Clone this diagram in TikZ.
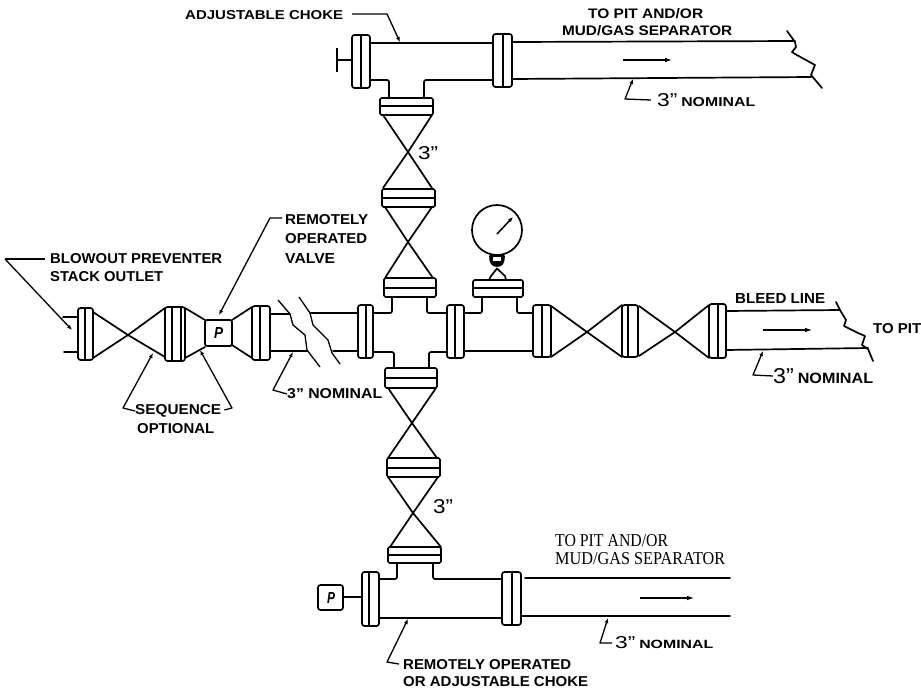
\documentclass[tikz,border=0pt]{standalone}
\usepackage{fontspec}
\usepackage{graphicx}
\setmainfont{Liberation Sans}
\newfontfamily\serifpart{Liberation Serif}
\usetikzlibrary{arrows.meta}
\newcommand{\fitbox}[3]{\resizebox{#1pt}{#2pt}{#3}}
\newcommand{\inchmark}{\symbol{34}}
% vertical flange: x1 x2 y1 y2 inner-x
\newcommand{\VFlange}[5]{\draw[pipe,rounded corners=2.5pt] (#1,#3) rectangle (#2,#4); \draw[thin line] (#5,#3) -- (#5,#4);}
% horizontal flange: x1 x2 y1 y2 inner-y
\newcommand{\HFlange}[5]{\draw[pipe,rounded corners=1.5pt] (#1,#3) rectangle (#2,#4); \draw[pipe] (#1,#5) -- (#2,#5);}
\tikzset{
  pipe/.style={line width=1.7pt,line join=round,line cap=round,black},
  thin line/.style={line width=1.4pt,black},
  leader/.style={line width=1.3pt,line join=round,black},
  tipped/.style={leader,-{Latex[length=5pt,width=4pt]}},
  flow/.style={line width=1.7pt,black,-{Latex[length=8pt,width=4.5pt]}},
  lab/.style={inner sep=0pt,anchor=west,text=black,font=\bfseries},
}
\begin{document}
\begin{tikzpicture}[x=1pt,y=-1pt]
\useasboundingbox (0,0) rectangle (921,697);
% ---- top run
\draw[thin line] (337,48) -- (337,72);
\draw[pipe] (337,60) -- (352,60);
\VFlange{352}{370}{35}{88}{361}
\VFlange{493}{512}{34}{87}{503}
\draw[pipe] (370,43) -- (493,43);
\draw[pipe] (512,42) -- (795,41);
\draw[pipe,rounded corners=2pt] (370,80) -- (389,80) -- (389,97);
\draw[pipe,rounded corners=2pt] (424,97) -- (424,80) -- (493,80);
\draw[pipe] (512,79) -- (811,77);
\draw[pipe] (787,31) -- (795,42) -- (796,47) -- (792,52) -- (795,54) -- (815,65) -- (811,75) -- (822,88);
\draw[flow] (623,60) -- (673,60);
% ---- vertical stack
\HFlange{380}{433}{98}{115}{106}
\draw[pipe] (383,115) -- (408,152) -- (432,188);
\draw[pipe] (432,115) -- (408,152) -- (383,188);
\HFlange{382}{435}{189}{207}{198}
\draw[pipe] (385,207) -- (408,242) -- (433,278);
\draw[pipe] (432,207) -- (408,242) -- (385,278);
\HFlange{384}{436}{278}{297}{288}
\draw[pipe,rounded corners=2pt] (392,297) -- (392,313) -- (373,313);
\draw[pipe,rounded corners=2pt] (427,297) -- (427,313) -- (447,313);
\draw[pipe,rounded corners=2pt] (373,352) -- (394,352) -- (394,368);
\draw[pipe,rounded corners=2pt] (429,368) -- (429,352) -- (447,352);
\HFlange{385}{437}{368}{388}{378}
\draw[pipe] (388,388) -- (412,423) -- (437,458);
\draw[pipe] (436,388) -- (412,423) -- (388,458);
\HFlange{387}{440}{458}{477}{468}
\draw[pipe] (388,477) -- (413,513) -- (441,547);
\draw[pipe] (438,477) -- (413,513) -- (390,547);
\HFlange{388}{441}{547}{563}{555}
% ---- bottom run
\draw[pipe,rounded corners=2pt] (397,563) -- (397,579) -- (379,579);
\draw[pipe,rounded corners=2pt] (433,563) -- (433,579) -- (502,579);
\draw[pipe] (525,578) -- (730,578);
\draw[pipe] (379,618) -- (502,618);
\draw[pipe] (521,616) -- (730,616);
\VFlange{362}{379}{572}{626}{369}
\VFlange{502}{521}{572}{625}{512}
\draw[pipe] (343,597) -- (362,597);
\draw[pipe,rounded corners=2.5pt] (318,585) rectangle (343,610);
\node[inner sep=0pt,font=\bfseries\itshape] (pbottom) at (331,597.5) {\fitbox{8}{11}{P}};
\draw[flow] (640,598) -- (695,598);
% ---- left run
\draw[pipe] (63,317) -- (77,317);
\draw[pipe] (64,352) -- (77,352);
\VFlange{78}{93}{308}{360}{85}
\draw[pipe] (93,312) -- (128,335) -- (165,357);
\draw[pipe] (93,358) -- (128,335) -- (165,308);
\VFlange{165}{185}{307}{361}{172}
\draw[thin line] (181,307) -- (181,361);
\draw[pipe] (185,308) -- (205,320);
\draw[pipe] (185,358) -- (205,347);
\draw[pipe,rounded corners=2pt] (205,320) rectangle (232,346);
\node[inner sep=0pt,font=\bfseries\itshape] (pvalve) at (218.5,333) {\fitbox{9}{11}{P}};
\draw[pipe] (232,320) -- (252,307);
\draw[pipe] (232,345) -- (252,358);
\VFlange{252}{270}{306}{360}{260}
\draw[pipe] (270,314) -- (290,314);
\draw[pipe] (270,351) -- (307,351);
\draw[leader] (278,300) -- (290,314) -- (293,325) -- (305,335) -- (307,350) -- (320,367);
\draw[leader] (299,297) -- (310,313) -- (313,325) -- (328,340) -- (332,353) -- (340,364);
\draw[pipe] (310,313) -- (358,313);
\draw[pipe] (333,351) -- (358,351);
\VFlange{358}{373}{305}{358}{366}
\VFlange{447}{464}{305}{358}{455}
% ---- right run
\draw[pipe,rounded corners=2pt] (464,313) -- (482,313) -- (482,297);
\draw[pipe,rounded corners=2pt] (517,297) -- (517,313) -- (533,313);
\draw[pipe] (464,351) -- (533,351);
\HFlange{473}{523}{280}{297}{288}
\draw[pipe] (497,230) circle[radius=25];
\draw[tipped,line width=1.5pt] (497,234) -- (513,217);
\draw[pipe,fill=black] (490,256) .. controls (490,263) and (492,266) .. (497,266) .. controls (502,266) and (504,263) .. (504,256) -- cycle;
\fill[white] (493,257) rectangle (501,261);
\draw[pipe] (491,276) -- (497,268.5) -- (505,276) -- (506,280);
\draw[pipe] (491,276) -- (489,280);
\VFlange{533}{551}{305}{357}{542}
\draw[pipe] (551,306) -- (587,332) -- (622,357);
\draw[pipe] (551,357) -- (587,332) -- (622,305);
\VFlange{622}{638}{305}{357}{628}
\draw[pipe] (639,306) -- (675,332) -- (709,358);
\draw[pipe] (639,356) -- (675,332) -- (709,305);
\VFlange{709}{726}{304}{358}{718}
\draw[pipe] (726,311) -- (840,310);
\draw[pipe] (726,350) -- (868,348);
\draw[pipe] (836,302) -- (840,310) -- (846,320) -- (844,326) -- (858,333) -- (865,336) -- (862,345) -- (868,349) -- (873,361);
\draw[flow] (763,330) -- (813,330);
% ---- labels
\node[lab] (choke) at (185,15) {\fitbox{158}{9}{ADJUSTABLE CHOKE}};
\node[lab] (toptext1) at (588,14) {\fitbox{115}{10}{TO PIT AND/OR}};
\node[lab] (toptext2) at (562,31) {\fitbox{170}{10}{MUD/GAS SEPARATOR}};
\node[lab,font=\normalfont] (topnom) at (657,100) {\fitbox{98}{13}{{\Large 3\inchmark\,}\textbf{NOMINAL}}};
\node[lab,font=\normalfont] (topthree) at (418,153) {\fitbox{20}{13}{3\inchmark}};
\node[lab] (bop1) at (50,259) {\fitbox{172}{10}{BLOWOUT PREVENTER}};
\node[lab] (bop2) at (50,277) {\fitbox{113}{10}{STACK OUTLET}};
\node[lab] (rov1) at (285,220) {\fitbox{83}{10}{REMOTELY}};
\node[lab] (rov2) at (285,239) {\fitbox{82}{10}{OPERATED}};
\node[lab] (rov3) at (285,258) {\fitbox{50}{10}{VALVE}};
\node[lab] (seq1) at (135,411) {\fitbox{86}{10}{SEQUENCE}};
\node[lab] (seq2) at (137,429) {\fitbox{77}{10}{OPTIONAL}};
\node[lab] (leftnom) at (287,394) {\fitbox{95}{10}{3\inchmark{} NOMINAL}};
\node[lab] (bleed) at (735,298) {\fitbox{90}{10}{BLEED LINE}};
\node[lab] (topit) at (873,329) {\fitbox{48}{10}{TO PIT}};
\node[lab,font=\normalfont] (rightnom) at (773,376) {\fitbox{100}{15}{{\Large 3\inchmark\,}\textbf{NOMINAL}}};
\node[lab,font=\normalfont] (botthree) at (433,507) {\fitbox{20}{14}{3\inchmark}};
\node[lab,font=\normalfont] (bot1) at (555,541) {\fitbox{113}{12}{\serifpart TO PIT AND/OR}};
\node[lab,font=\normalfont] (bot2) at (555,559) {\fitbox{170}{12}{\serifpart MUD/GAS SEPARATOR}};
\node[lab,font=\normalfont] (botnom) at (615,643) {\fitbox{98}{12}{{\Large 3\inchmark\,}\textbf{NOMINAL}}};
\node[lab] (roc1) at (403,665) {\fitbox{168}{10}{REMOTELY OPERATED}};
\node[lab] (roc2) at (403,682) {\fitbox{185}{10}{OR ADJUSTABLE CHOKE}};
% ---- leaders
\coordinate (chokebend) at (387,14);
\coordinate (choketip) at (400,42);
\draw[tipped] (352,14) -- (chokebend) -- (choketip);
\coordinate (topnombend) at (625,99);
\coordinate (topnomtip) at (633,79);
\draw[tipped] (topnom.west) ++(-6,0) -- (topnombend) -- (topnomtip);
\coordinate (bopbend) at (5,259);
\coordinate (boptip) at (72,330);
\draw[leader] (bop1.west) ++(-5,0) -- (bopbend);
\draw[tipped] (bopbend) -- (boptip);
\coordinate (rovbend) at (270,218);
\coordinate (rovtip) at (219,315);
\draw[tipped] (rov1.west) ++(-3,-2) -- (rovbend) -- (rovtip);
\coordinate (seqlb) at (123,408);
\coordinate (seqlt) at (153,353);
\draw[tipped] (seq1.west) -- (seqlb) -- (seqlt);
\coordinate (seqrb) at (232,408);
\coordinate (seqrt) at (200,350);
\draw[tipped] (seq1.east) ++(3,-1) -- (seqrb) -- (seqrt);
\coordinate (lnb) at (273,390);
\coordinate (lnt) at (293,352);
\draw[tipped] (leftnom.west) -- (lnb) -- (lnt);
\coordinate (rnb) at (753,375);
\coordinate (rnt) at (763,351);
\draw[tipped] (rightnom.west) -- (rnb) -- (rnt);
\coordinate (bnb) at (600,643);
\coordinate (bnt) at (608,618);
\draw[tipped] (botnom.west) ++(-3,0) -- (bnb) -- (bnt);
\coordinate (rocb) at (387,662);
\coordinate (roct) at (408,619);
\draw[tipped] (roc1.west) ++(-4,-1) -- (rocb) -- (roct);
\end{tikzpicture}
\end{document}
